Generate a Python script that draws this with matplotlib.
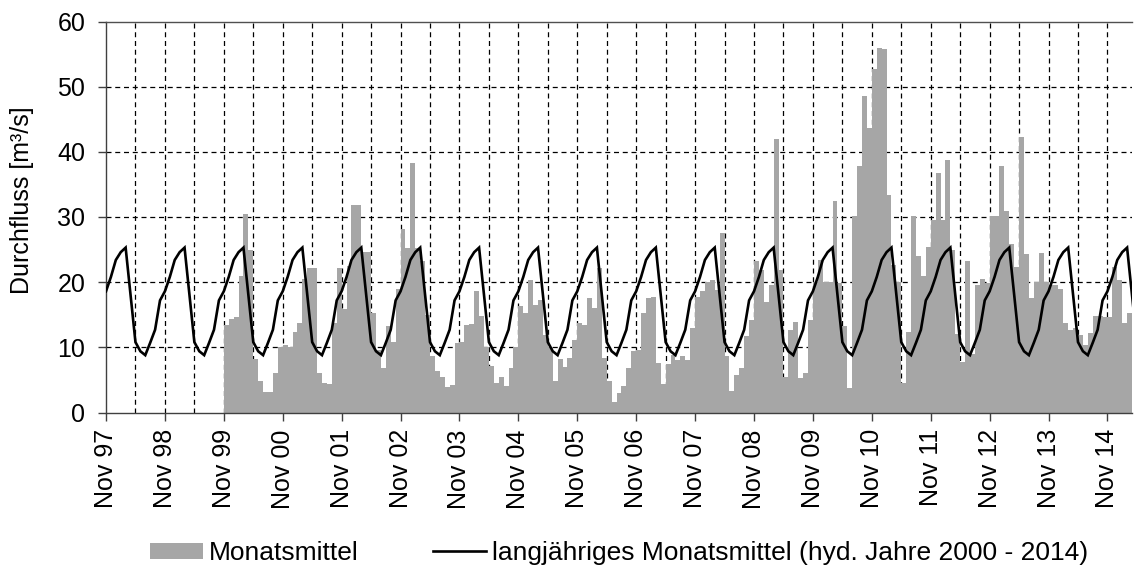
import numpy as np
import matplotlib
matplotlib.use("Agg")
import matplotlib.pyplot as plt
from matplotlib.patches import Patch
from matplotlib.lines import Line2D

plt.rcParams['font.family'] = ['Liberation Sans', 'DejaVu Sans']

# x axis: months counted from Nov 1997 (index 0)
tick_labels = ["Nov 97", "Nov 98", "Nov 99", "Nov 00", "Nov 01", "Nov 02", "Nov 03",
               "Nov 04", "Nov 05", "Nov 06", "Nov 07", "Nov 08", "Nov 09", "Nov 10",
               "Nov 11", "Nov 12", "Nov 13", "Nov 14"]

# long-term monthly means (Nov ... Oct), hyd. years 2000-2014
longterm_months = ["Nov", "Dez", "Jan", "Feb", "Mär", "Apr", "Mai", "Jun", "Jul", "Aug", "Sep", "Okt"]
longterm_values = [18.6, 20.8, 23.4, 24.6, 25.3, 18.0, 10.8, 9.4, 8.8, 10.7, 12.7, 17.2]

# monthly means, starting Nov 1999
monthly_start = 24
monthly_values = [
    13.5, 14.3, 14.7, 21.0, 30.5, 25.0, 8.2, 4.9, 3.1, 3.1, 6.1, 10.1,      # Nov 99 - Oct 00
    10.4, 10.1, 12.3, 13.8, 20.5, 22.2, 22.2, 6.1, 4.5, 4.3, 13.7, 22.2,    # Nov 00 - Oct 01
    15.9, 22.5, 31.9, 31.9, 24.7, 24.7, 15.3, 9.6, 6.8, 13.3, 10.8, 19.0,   # Nov 01 - Oct 02
    28.1, 25.3, 38.3, 25.3, 23.2, 15.0, 8.6, 6.3, 5.5, 3.9, 4.2, 10.7,      # Nov 02 - Oct 03
    10.8, 13.5, 13.6, 18.6, 14.8, 10.1, 7.1, 4.5, 5.5, 4.0, 6.8, 10.1,      # Nov 03 - Oct 04
    16.3, 15.3, 20.4, 16.5, 17.3, 11.9, 10.1, 4.9, 8.2, 7.0, 8.3, 11.2,     # Nov 04 - Oct 05
    13.7, 13.5, 17.6, 16.0, 22.2, 8.3, 4.9, 1.6, 3.0, 4.0, 6.8, 9.4,        # Nov 05 - Oct 06
    9.6, 15.3, 17.6, 17.8, 7.6, 4.3, 7.4, 8.9, 8.1, 8.6, 8.1, 12.9,         # Nov 06 - Oct 07
    17.8, 18.6, 20.1, 20.4, 18.8, 27.6, 8.6, 3.3, 5.8, 6.8, 11.7, 14.2,     # Nov 07 - Oct 08
    23.2, 21.9, 17.0, 19.6, 41.9, 21.9, 5.5, 12.6, 13.9, 5.3, 6.1, 14.2,    # Nov 08 - Oct 09
    20.1, 23.4, 20.1, 20.1, 32.4, 19.8, 13.2, 3.8, 30.1, 37.8, 48.6, 43.7,  # Nov 09 - Oct 10
    52.7, 56.0, 55.8, 33.4, 22.7, 20.0, 4.5, 12.3, 30.1, 24.0, 20.9, 25.4,  # Nov 10 - Oct 11
    29.6, 36.7, 29.6, 38.7, 25.0, 12.0, 7.8, 23.2, 9.0, 19.5, 20.5, 19.9,   # Nov 11 - Oct 12
    30.2, 30.2, 37.9, 30.9, 25.8, 22.4, 42.2, 24.3, 17.5, 20.0, 24.4, 20.0, # Nov 12 - Oct 13
    19.6, 19.6, 19.0, 13.7, 12.7, 13.0, 11.9, 10.4, 12.2, 14.8, 14.8, 14.6, # Nov 13 - Oct 14
    14.6, 22.4, 20.4, 13.7, 15.2, 14.0,                                     # Nov 14 - Apr 15
]

n_months_axis = 209.0
line_x = np.arange(0, 211)
line_y = np.array([longterm_values[i % 12] for i in line_x])
bar_x = monthly_start + np.arange(len(monthly_values))

W, H = 1134, 571
fig = plt.figure(figsize=(W / 100, H / 100), dpi=100)
ax = fig.add_axes([106 / W, 1 - 412.5 / H, (1132 - 106) / W, (412.5 - 21.5) / H])

ax.bar(bar_x, monthly_values, width=1.0, align='edge', color='#A6A6A6',
       linewidth=0, zorder=2)
ax.plot(line_x, line_y, color='black', lw=1.9, zorder=3, solid_joinstyle='miter')

ax.set_xlim(0, n_months_axis)
ax.set_ylim(0, 60)
ax.set_yticks(np.arange(0, 61, 10))
ax.set_xticks(np.arange(0, 12 * len(tick_labels), 12))
ax.set_xticklabels(tick_labels, rotation=90)

for y in range(10, 60, 10):
    ax.axhline(y, color='black', lw=0.9, ls=(0, (4, 3)), zorder=1)
for xv in np.arange(6, n_months_axis, 6):
    ax.axvline(xv, color='black', lw=0.9, ls=(0, (4, 3)), zorder=1)

ax.spines['right'].set_visible(False)
for s in ['left', 'bottom']:
    ax.spines[s].set_color('#404040')
    ax.spines[s].set_linewidth(1.0)
ax.spines['top'].set_color('#505050')
ax.spines['top'].set_linewidth(1.0)

ax.tick_params(axis='y', which='major', direction='out', length=6, width=1,
               color='#404040', labelsize=18, pad=9)
ax.tick_params(axis='x', which='major', direction='out', length=6, width=1,
               color='#404040', labelsize=18, pad=6)

fig.text(22 / W, 1 - 200 / H, "Durchfluss [m³/s]", rotation=90, ha='center',
         va='center', fontsize=18)

handles = [Patch(facecolor='#A6A6A6', edgecolor='none'),
           Line2D([0], [0], color='black', lw=1.9)]
labels = ["Monatsmittel", "langjähriges Monatsmittel (hyd. Jahre 2000 - 2014)"]
fig.legend(handles, labels, loc='center', bbox_to_anchor=(619 / W, 1 - 553 / H), ncol=2,
           frameon=False, fontsize=19, handlelength=2.0, handletextpad=0.25,
           columnspacing=2.8, handleheight=0.55, borderpad=0.1)

fig.savefig("out.png", dpi=100)
